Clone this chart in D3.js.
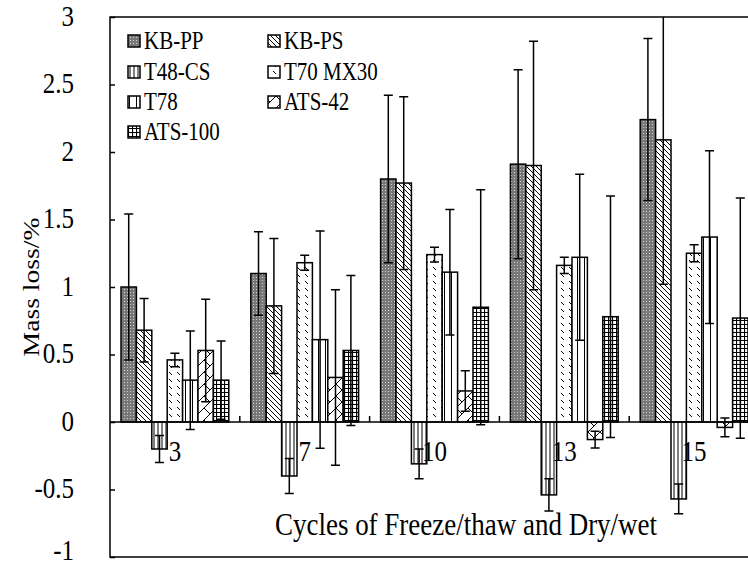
<!DOCTYPE html>
<html>
<head>
<meta charset="utf-8">
<script src="https://cdn.jsdelivr.net/npm/d3@7"></script>
<style>
  html, body { margin: 0; padding: 0; background: #fff; }
  svg { display: block; }
  text { font-family: "Liberation Serif", "Times New Roman", serif; }
</style>
</head>
<body>
<svg id="chart" width="748" height="567"></svg>
<script>
// Freeze/thaw + dry/wet cycles
const categories = ["3", "7", "10", "13", "15"];
const seriesNames = ["KB-PP", "KB-PS", "T48-CS", "T70 MX30", "T78", "ATS-42", "ATS-100"];

// mean mass loss (%) per series, one value per cycle count
const kbpp   = [1.00, 1.10, 1.80, 1.91, 2.24];
const kbps   = [0.68, 0.86, 1.77, 1.90, 2.09];
const t48cs  = [-0.20, -0.40, -0.31, -0.54, -0.57];
const t70mx  = [0.46, 1.18, 1.24, 1.16, 1.25];
const t78    = [0.31, 0.61, 1.11, 1.22, 1.37];
const ats42  = [0.53, 0.33, 0.23, -0.13, -0.04];
const ats100 = [0.31, 0.53, 0.85, 0.78, 0.77];

// standard deviations
const kbppErr   = [0.54, 0.31, 0.62, 0.70, 0.60];
const kbpsErr   = [0.235, 0.50, 0.64, 0.92, 1.07];
const t48csErr  = [0.10, 0.13, 0.11, 0.12, 0.11];
const t70mxErr  = [0.05, 0.055, 0.055, 0.06, 0.063];
const t78Err    = [0.365, 0.805, 0.465, 0.615, 0.64];
const ats42Err  = [0.38, 0.65, 0.15, 0.062, 0.07];
const ats100Err = [0.29, 0.555, 0.87, 0.895, 0.89];

const yTicks = [-1, -0.5, 0, 0.5, 1, 1.5, 2, 2.5, 3];
const yTickLabels = ["-1", "-0.5", "0", "0.5", "1", "1.5", "2", "2.5", "3"];
const xTitle = "Cycles of Freeze/thaw and Dry/wet";
const yTitle = "Mass loss/%";

const values = [kbpp, kbps, t48cs, t70mx, t78, ats42, ats100];
const errors = [kbppErr, kbpsErr, t48csErr, t70mxErr, t78Err, ats42Err, ats100Err];
const patternIds = ["p-kbpp", "p-kbps", "p-t48", "p-t70", "p-t78", "p-ats42", "p-ats100"];

const svg = d3.select("#chart");
const plot = { left: 110, top: 17, right: 759, bottom: 557 };
const stretch = 1.15; // vertical text stretch
const serif = "'Liberation Serif', 'Times New Roman', serif";

const x = d3.scaleBand().domain(categories).range([plot.left, plot.right]).paddingInner(0).paddingOuter(0);
const xi = d3.scaleBand().domain(seriesNames).range([0, x.bandwidth()]).paddingInner(0).paddingOuter(0.715);
const y = d3.scaleLinear().domain([-1, 3]).range([plot.bottom, plot.top]);

// ---- fill patterns ----
const defs = svg.append("defs");
function pat(id, w, h) {
  return defs.append("pattern").attr("id", id).attr("patternUnits", "userSpaceOnUse")
    .attr("width", w).attr("height", h);
}
let p = pat("p-kbpp", 3, 3);
p.append("rect").attr("width", 3).attr("height", 3).attr("fill", "#787878");
p.append("rect").attr("x", 1).attr("y", 1).attr("width", 1).attr("height", 1).attr("fill", "#d0d0d0");

p = pat("p-kbps", 5, 5);
p.append("rect").attr("width", 5).attr("height", 5).attr("fill", "#fff");
p.append("path").attr("d", "M-1,-1L6,6M-1,4L1,6M4,-1L6,1").attr("stroke", "#000").attr("stroke-width", 1);

p = pat("p-t48", 4, 4);
p.append("rect").attr("width", 4).attr("height", 4).attr("fill", "#fff");
p.append("path").attr("d", "M2,0V4").attr("stroke", "#000").attr("stroke-width", 1);

p = pat("p-t70", 8, 7);
p.append("rect").attr("width", 8).attr("height", 7).attr("fill", "#fff");
p.append("path").attr("d", "M1,1L4,4").attr("stroke", "#000").attr("stroke-width", 1);

p = pat("p-t78", 7, 7);
p.append("rect").attr("width", 7).attr("height", 7).attr("fill", "#fff");
p.append("path").attr("d", "M3.5,0V7").attr("stroke", "#000").attr("stroke-width", 1);

p = pat("p-ats42", 12, 12);
p.append("rect").attr("width", 12).attr("height", 12).attr("fill", "#fff");
p.append("path").attr("d", "M0,12L12,0M-1,1L1,-1M11,13L13,11M0,0L6,6").attr("stroke", "#000").attr("stroke-width", 1);

p = pat("p-ats100", 4, 4);
p.append("rect").attr("width", 4).attr("height", 4).attr("fill", "#fff");
p.append("path").attr("d", "M0.5,0V4M0,0.5H4").attr("stroke", "#000").attr("stroke-width", 1.2);

defs.append("clipPath").attr("id", "plotClip").append("rect")
  .attr("x", plot.left).attr("y", plot.top)
  .attr("width", plot.right - plot.left).attr("height", plot.bottom - plot.top);

// ---- bars ----
const rows = [];
seriesNames.forEach((s, si) => {
  categories.forEach((c, ci) => {
    rows.push({ s, si, c, v: values[si][ci], e: errors[si][ci] });
  });
});

const bw = xi.bandwidth();
svg.append("g").selectAll("rect").data(rows).join("rect")
  .attr("x", d => x(d.c) + xi(d.s))
  .attr("y", d => y(Math.max(0, d.v)))
  .attr("width", bw)
  .attr("height", d => Math.abs(y(d.v) - y(0)))
  .attr("fill", d => `url(#${patternIds[d.si]})`)
  .attr("stroke", "#000").attr("stroke-width", 1.5);

// ---- error bars ----
const eg = svg.append("g").attr("clip-path", "url(#plotClip)")
  .attr("stroke", "#000").attr("stroke-width", 1.5).attr("fill", "none");
const cap = 4.5;
eg.selectAll("path").data(rows).join("path")
  .attr("d", d => {
    const cx = x(d.c) + xi(d.s) + bw / 2;
    const y1 = y(d.v + d.e), y2 = y(d.v - d.e);
    return `M${cx},${y1}V${y2}M${cx - cap},${y1}H${cx + cap}M${cx - cap},${y2}H${cx + cap}`;
  });

// ---- frame and axes ----
svg.append("path").attr("stroke", "#000").attr("fill", "none").attr("stroke-width", 1.5)
  .attr("d", `M${plot.right},${plot.top}H${plot.left}V${plot.bottom}H${plot.right}`);

const yAxis = d3.axisRight(y).tickValues(yTicks).tickSize(5).tickFormat("");
const ya = svg.append("g").attr("transform", `translate(${plot.left},0)`).call(yAxis);
ya.select(".domain").remove();
ya.selectAll(".tick line").attr("stroke", "#000").attr("stroke-width", 1.5);

// zero line with category separators
svg.append("line").attr("x1", plot.left).attr("x2", plot.right)
  .attr("y1", y(0)).attr("y2", y(0)).attr("stroke", "#000").attr("stroke-width", 1.5);
svg.append("g").selectAll("line").data(categories.slice(1)).join("line")
  .attr("x1", d => x(d)).attr("x2", d => x(d))
  .attr("y1", y(0)).attr("y2", y(0) - 6)
  .attr("stroke", "#000").attr("stroke-width", 1.5);

// ---- text ----
function label(g, txt, tx, ty, size, anchor, rotate) {
  return g.append("text")
    .attr("transform", `translate(${tx},${ty}) scale(1,${stretch})` + (rotate ? ` rotate(${rotate})` : ""))
    .attr("font-family", serif)
    .attr("font-size", size).attr("text-anchor", anchor).attr("fill", "#000")
    .text(txt);
}
const tg = svg.append("g");
yTicks.forEach((t, i) => label(tg, yTickLabels[i], 74, Math.min(y(t) + 8.5, 560), 25, "end"));
categories.forEach(c => label(tg, c, x(c) + x.bandwidth() / 2, 461, 25, "middle"));
label(tg, xTitle, 466, 535, 27, "middle");
label(tg, yTitle, 39, (plot.top + plot.bottom) / 2, 24, "middle", -90);

// ---- legend ----
const legCols = [128, 268];
const legRows = [41, 72, 102, 132];
const lg = svg.append("g");
seriesNames.forEach((s, i) => {
  const cx = legCols[i % 2], cy = legRows[Math.floor(i / 2)];
  lg.append("rect").attr("x", cx).attr("y", cy - 6).attr("width", 12).attr("height", 12)
    .attr("fill", `url(#${patternIds[i]})`).attr("stroke", "#000").attr("stroke-width", 1.5);
  label(lg, s, cx + 16, cy + 8, 21, "start");
});
</script>
</body>
</html>
